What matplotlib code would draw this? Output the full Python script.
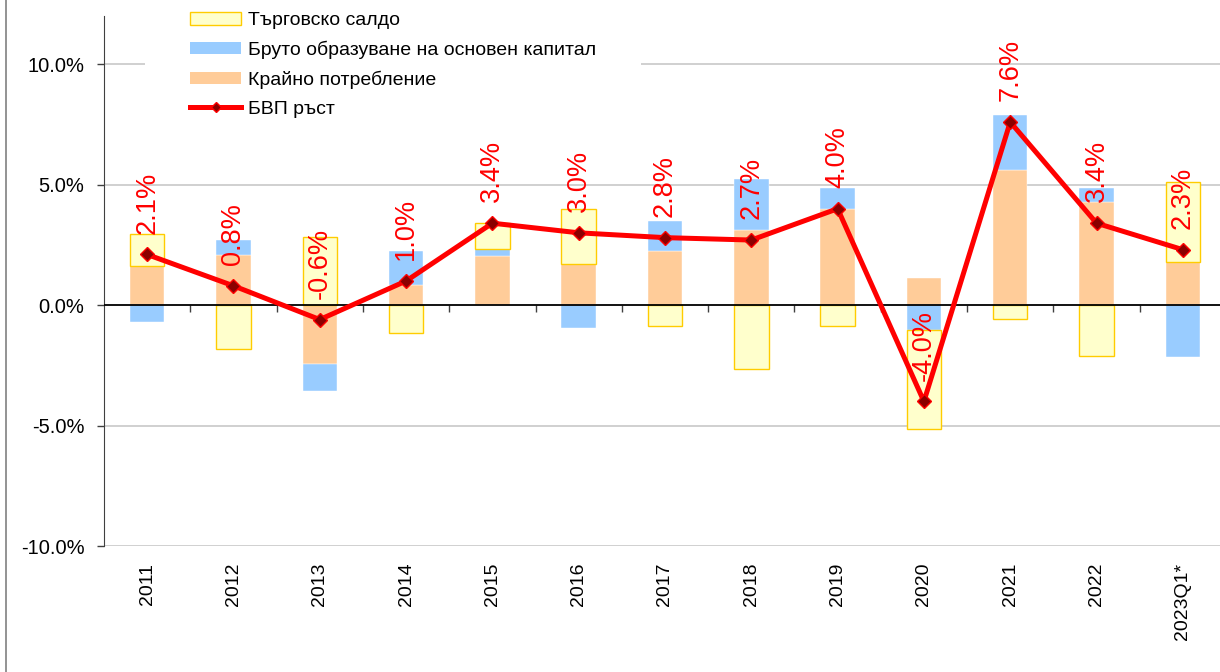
"""GDP growth and contributions by demand component (Bulgaria)."""

import matplotlib
matplotlib.use("Agg")
import matplotlib.pyplot as plt
from matplotlib.patches import Patch
from matplotlib.lines import Line2D
import numpy as np

plt.rcParams['font.family'] = ['Liberation Sans', 'DejaVu Sans']

# Data (percentage points)
years = ['2011', '2012', '2013', '2014', '2015', '2016', '2017',
         '2018', '2019', '2020', '2021', '2022', '2023Q1*']
consumption = [1.62, 2.07, -2.43, 0.83, 2.03, 1.72, 2.23, 3.12, 4.00, 1.11, 5.60, 4.29, 1.77]
capital = [-0.72, 0.63, -1.12, 1.40, 0.28, -0.97, 1.26, 2.11, 0.84, -1.04, 2.31, 0.59, -2.14]
trade = [1.35, -1.84, 2.82, -1.17, 1.08, 2.25, -0.86, -2.67, -0.88, -4.12, -0.59, -2.12, 3.36]
gdp = [2.1, 0.8, -0.6, 1.0, 3.4, 3.0, 2.8, 2.7, 4.0, -4.0, 7.6, 3.4, 2.3]

labels = ['Търговско салдо', 'Бруто образуване на основен капитал',
          'Крайно потребление', 'БВП ръст']

c_cons = '#FFCC99'
c_cap = '#99CCFF'
c_trade = '#FFFFCC'
c_trade_edge = '#FFCC00'
c_red = '#FF0000'

fig = plt.figure(figsize=(12.2, 6.72), dpi=100)
ax = fig.add_axes([104 / 1220, 126 / 672, 1122 / 1220, 530 / 672])

x = np.arange(len(years))
width = 0.4

# stack positives up and negatives down, in series order
pos = np.zeros(len(years))
neg = np.zeros(len(years))
series = [(consumption, c_cons, 'white', 0.3),
          (capital, c_cap, 'white', 0.3),
          (trade, c_trade, c_trade_edge, 1.0)]
for vals, fc, ec, lw in series:
    vals = np.array(vals)
    bottom = np.where(vals >= 0, pos, neg)
    ax.bar(x, vals, width, bottom=bottom, color=fc, edgecolor=ec,
           linewidth=lw, zorder=2)
    pos = np.where(vals >= 0, pos + vals, pos)
    neg = np.where(vals < 0, neg + vals, neg)

# GDP growth line
ax.plot(x, gdp, color=c_red, lw=3.6, marker='D', markersize=7,
        markerfacecolor='#8B0000', markeredgecolor=c_red, markeredgewidth=1,
        zorder=4, solid_joinstyle='miter')
for xi, v in zip(x, gdp):
    ax.annotate(f'{v:.1f}%', (xi, v), xytext=(0, 15), textcoords='offset points',
                rotation=90, ha='center', va='bottom', color=c_red, fontsize=19.5,
                zorder=7)

# axes
ax.set_xlim(-0.5, 12.5)
ax.set_ylim(-10, 12)
ax.set_yticks([-10, -5, 0, 5, 10])
ax.set_yticklabels(['-10.0%', '-5.0%', '0.0%', '5.0%', '10.0%'], fontsize=14.5)
ax.tick_params(axis='y', direction='out', length=5, width=1, color='#404040', pad=9)
for yv in [-10, -5, 5, 10]:
    ax.axhline(yv, color='#C8C8C8', lw=1.2, zorder=1)
ax.axhline(0, color='black', lw=1.3, zorder=3)

ax.spines['top'].set_visible(False)
ax.spines['right'].set_visible(False)
ax.spines['left'].set_color('#404040')
ax.spines['bottom'].set_position(('data', 0))
ax.spines['bottom'].set_visible(False)

ax.set_xticks(np.arange(0.5, 12, 1))
ax.set_xticklabels([])
ax.tick_params(axis='x', direction='out', length=5, width=1, color='#404040')

for xi, lab in zip(x, years):
    ax.annotate(lab, (xi, -10), xytext=(0, -12), textcoords='offset points',
                rotation=90, ha='center', va='top', fontsize=14, annotation_clip=False)

# legend (behind the value labels)
handles = [Patch(facecolor=c_trade, edgecolor=c_trade_edge, linewidth=1),
           Patch(facecolor=c_cap, edgecolor='none'),
           Patch(facecolor=c_cons, edgecolor='none'),
           Line2D([], [], color=c_red, lw=3.6, marker='D', markersize=5,
                  markerfacecolor='#8B0000', markeredgecolor=c_red)]
leg = ax.legend(handles, labels, loc='center', bbox_to_anchor=(393 / 1220, 1 - 65 / 672),
                bbox_transform=fig.transFigure,
                fontsize=14, frameon=True, facecolor='white', edgecolor='none',
                framealpha=1, fancybox=False, borderpad=2.3, handlelength=2.65,
                handleheight=0.6, handletextpad=0.35, labelspacing=0.6, numpoints=1)
leg.set_zorder(6)

# chart-area left border
fig.add_artist(Line2D([6 / 1220, 6 / 1220], [0, 1], color='#808080', lw=1.2))

plt.savefig('out.png', dpi=100)
